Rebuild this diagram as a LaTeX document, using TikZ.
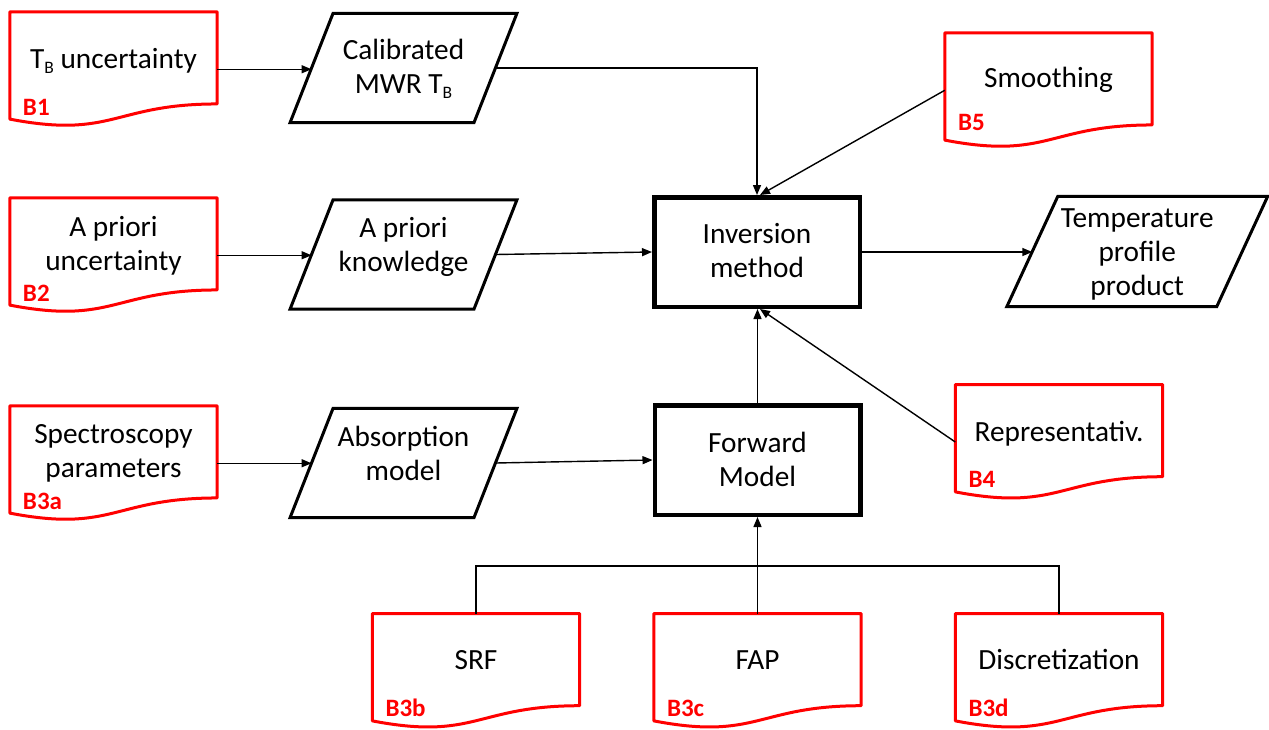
\documentclass[tikz,border=0pt]{standalone}
\usepackage{fontspec}
\setmainfont{Carlito}
\usetikzlibrary{arrows.meta,calc}
\newcommand\mysub[1]{\raisebox{-5pt}{\fontsize{17.5}{17.5}\selectfont #1}}
\newcommand\mydocshape[1]{%
  \path[docline] (#1.north west) -- (#1.north east) -- ($(#1.north east)!0.802!(#1.south east)$)
   .. controls ($(#1.north)!0.802!(#1.south)$) and ($(#1.north)!1.107!(#1.south)$) .. ($(#1.north west)!0.934!(#1.south west)$) -- cycle;}
\newcommand\mypara[2]{%
  \path[paraline] ([xshift=#2]#1.north west) -- ([xshift=#2]#1.north east) -- ([xshift=-#2]#1.south east) -- ([xshift=-#2]#1.south west) -- cycle;}
\begin{document}
\begin{tikzpicture}[x=1pt,y=-1pt,
  docbox/.style={rectangle, minimum width=207pt, minimum height=114.5pt, inner sep=0pt},
  databox/.style={rectangle, minimum width=183.5pt, minimum height=109pt, inner sep=0pt},
  procbox/.style={rectangle, draw=black, line width=4.5pt, minimum width=205.5pt, minimum height=109.5pt, inner sep=0pt},
  txt/.style={font=\fontsize{29.3}{34}\selectfont, align=center, inner sep=0pt},
  tag/.style={font=\fontsize{25}{28}\selectfont\bfseries, text=red, inner sep=0pt, anchor=base west},
  docline/.style={draw=red, line width=3pt, line join=round},
  paraline/.style={draw=black, line width=3pt, line join=miter},
  conn/.style={draw=black, line width=1.4pt},
  arr/.style={conn, -{Triangle[length=10pt,width=8pt]}},
]
\useasboundingbox (0,0) rectangle (1269,729);
% document shapes
\node[docbox] (b1) at (113.5,69.25) {};
\node[docbox] (b2) at (113.5,255.25) {};
\node[docbox] (b3a) at (113.5,463.25) {};
\node[docbox] (b5) at (1048.5,90.25) {};
\node[docbox] (b4) at (1059,442) {};
\node[docbox] (b3b) at (476,671) {};
\node[docbox] (b3c) at (757.5,671) {};
\node[docbox] (b3d) at (1059,671) {};
\foreach \n in {b1,b2,b3a,b5,b4,b3b,b3c,b3d} {\mydocshape{\n}}
% data shapes
\node[databox] (cal) at (403.5,68) {};
\node[databox] (apk) at (403.5,254.5) {};
\node[databox] (abs) at (403.5,463) {};
\node[databox, minimum width=209.5pt, minimum height=110pt] (tpp) at (1137.25,251.5) {};
\mypara{cal}{21.5pt}
\mypara{apk}{21.5pt}
\mypara{abs}{21.5pt}
\mypara{tpp}{25.5pt}
% process boxes
\node[procbox] (inv) at (757,252) {};
\node[procbox] (fwd) at (757.5,460) {};
% texts
\node[txt] (b1t) at ([yshift=8pt]b1.center) {\strut T\mysub{B} uncertainty};
\node[txt] (b2t) at ([yshift=8.5pt]b2.center) {\strut A priori\\\strut uncertainty};
\node[txt] (b3at) at ([yshift=9.5pt]b3a.center) {\strut Spectroscopy\\\strut parameters};
\node[txt] (b5t) at ([yshift=10pt]b5.center) {\strut Smoothing};
\node[txt] (b4t) at ([yshift=7pt]b4.center) {\strut Representativ.};
\node[txt] (b3bt) at ([yshift=8pt]b3b.center) {\strut SRF};
\node[txt] (b3ct) at ([yshift=8pt]b3c.center) {\strut FAP};
\node[txt] (b3dt) at ([yshift=8pt]b3d.center) {\strut Discretization};
\node[txt] (calt) at ([yshift=-2pt]cal.center) {\strut Calibrated\\\strut MWR T\mysub{B}};
\node[txt] (apkt) at ([yshift=6.5pt]apk.center) {\strut A priori\\\strut knowledge};
\node[txt] (abst) at ([yshift=6pt]abs.center) {\strut Absorption\\\strut model};
\node[txt] (invt) at ([yshift=-2pt]inv.center) {\strut Inversion\\\strut method};
\node[txt] (fwdt) at ([yshift=-3pt]fwd.center) {\strut Forward\\\strut Model};
\node[txt] (tppt) at ([yshift=-3pt]tpp.center) {\strut Temperature\\\strut profile\\\strut product};
% tags
\node[tag] (b1l) at ([xshift=13pt,yshift=-104pt]b1.north west) {B1};
\node[tag] (b2l) at ([xshift=13pt,yshift=-104pt]b2.north west) {B2};
\node[tag] (b3al) at ([xshift=13pt,yshift=-104pt]b3a.north west) {B3a};
\node[tag] (b5l) at ([xshift=13pt,yshift=-98pt]b5.north west) {B5};
\node[tag] (b4l) at ([xshift=13pt,yshift=-103pt]b4.north west) {B4};
\node[tag] (b3bl) at ([xshift=13pt,yshift=-103pt]b3b.north west) {B3b};
\node[tag] (b3cl) at ([xshift=13pt,yshift=-103pt]b3c.north west) {B3c};
\node[tag] (b3dl) at ([xshift=13pt,yshift=-103pt]b3d.north west) {B3d};
% connectors
\draw[arr] (b1.east) -- (b1.east -| cal.west);
\draw[arr] (cal.east) -| (inv.north);
\draw[arr] (b5.west) -- ([xshift=3pt]inv.north);
\draw[arr] (b2.east) -- (b2.east -| apk.west);
\draw[arr] (apk.east) -- (inv.west);
\draw[arr] (inv.east) -- (inv.east -| tpp.west);
\draw[arr] (b3a.east) -- (b3a.east -| abs.west);
\draw[arr] (abs.east) -- (fwd.west);
\draw[arr] (fwd.north) -- (fwd.north |- inv.south);
\draw[arr] (b4.west) -- ([xshift=3pt]inv.south);
\coordinate (bus) at (757.5,566);
\draw[conn] (b3b.north) |- (bus) -| (b3d.north);
\draw[arr] (b3c.north) -- (fwd.south);
\end{tikzpicture}
\end{document}
